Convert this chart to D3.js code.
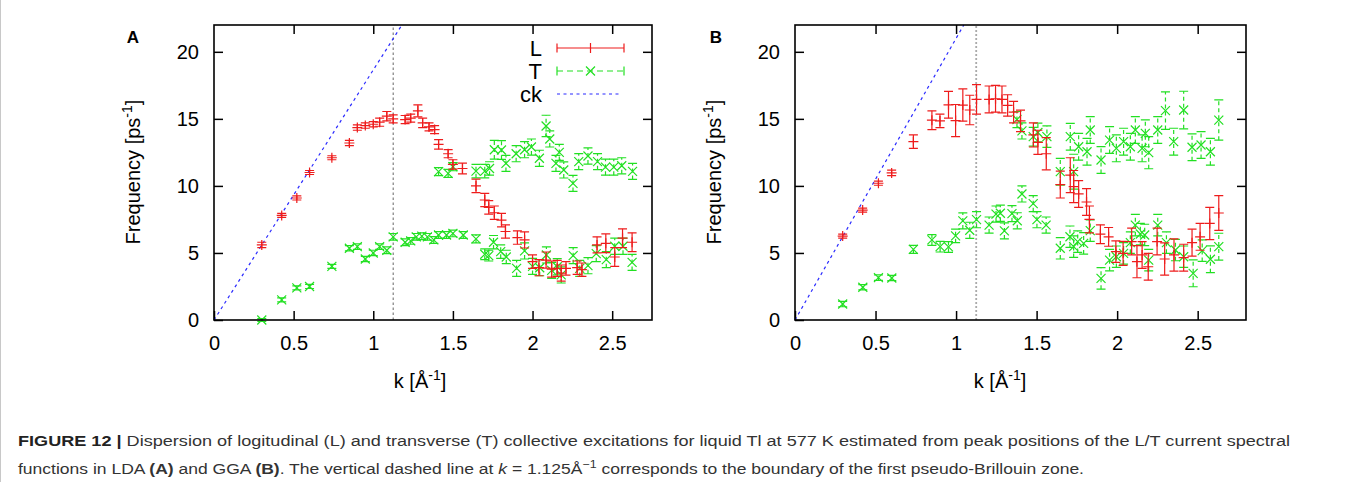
<!DOCTYPE html>
<html><head><meta charset="utf-8">
<script src="https://cdn.jsdelivr.net/npm/d3@7"></script>
<style>
body{margin:0;background:#fff;}
svg{display:block;}
text{font-family:"Liberation Sans",Arial,sans-serif;}
</style></head>
<body>
<svg id="chart" width="1347" height="482"></svg>
<script>
// ---------- DATA ----------
const xTicks = [0, 0.5, 1, 1.5, 2, 2.5];
const xTickLabels = ["0", "0.5", "1", "1.5", "2", "2.5"];
const yTicks = [0, 5, 10, 15, 20];
const yTickLabels = ["0", "5", "10", "15", "20"];
const legendLabels = ["L", "T", "ck"];
const kBoundary = 1.125;
const ckSlopeA = 18.65;
const ckSlopeB = 21.0;

// [k, frequency, error]
const A_L = [[0.30,5.6,0.2],[0.425,7.8,0.15],[0.52,9.1,0.15],[0.60,11.0,0.15],[0.74,12.1,0.15],[0.85,13.2,0.2],
 [0.90,14.35,0.2],[0.95,14.5,0.2],[1.00,14.6,0.2],[1.04,14.75,0.3],[1.085,15.2,0.35],[1.125,15.0,0.3],
 [1.20,14.95,0.3],[1.235,15.05,0.3],[1.28,15.6,0.45],[1.31,14.7,0.35],[1.35,14.4,0.3],[1.385,14.2,0.3],
 [1.41,13.1,0.35],[1.47,12.4,0.3],[1.50,11.6,0.35],[1.56,11.3,0.4],[1.645,10.0,0.5],[1.70,8.95,0.5],
 [1.725,8.4,0.5],[1.76,8.0,0.5],[1.805,7.45,0.5],[1.83,6.6,0.5],[1.905,6.15,0.5],[1.95,5.97,0.6],
 [2.0,4.35,0.5],[2.04,3.9,0.6],[2.085,4.47,0.6],[2.12,3.8,0.6],[2.155,3.85,0.6],[2.18,3.5,0.6],
 [2.21,3.85,0.5],[2.28,3.9,0.5],[2.31,3.75,0.5],[2.405,5.6,0.6],[2.46,5.72,0.7],[2.516,4.7,0.7],
 [2.565,6.1,0.7],[2.625,5.8,0.7]];
const A_T_low = [[0.30,0.0,0.1],[0.425,1.5,0.15],[0.52,2.4,0.15],[0.60,2.5,0.15],[0.74,4.0,0.15],[0.85,5.35,0.2],
 [0.90,5.47,0.2],[0.95,4.55,0.2],[1.00,5.0,0.2],[1.04,5.47,0.2],[1.085,5.2,0.25],[1.125,6.2,0.25],
 [1.20,5.8,0.25],[1.235,5.9,0.25],[1.27,6.2,0.25],[1.305,6.25,0.25],[1.34,6.2,0.25],[1.38,5.97,0.25],
 [1.41,6.34,0.25],[1.46,6.34,0.25],[1.50,6.46,0.25],[1.565,6.34,0.25],[1.645,6.05,0.3],[1.70,4.9,0.4],
 [1.725,4.8,0.4],[1.755,5.8,0.5],[1.80,5.1,0.5],[1.835,4.7,0.5],[1.90,3.85,0.6],[1.95,5.15,0.6],
 [2.0,4.0,0.6],[2.045,3.9,0.6],[2.087,4.85,0.6],[2.12,3.7,0.6],[2.155,3.97,0.6],[2.18,3.36,0.6],
 [2.255,4.8,0.6],[2.296,3.85,0.6],[2.348,4.05,0.6],[2.40,4.95,0.6],[2.463,4.5,0.6],[2.516,5.5,0.6],
 [2.568,5.5,0.6],[2.625,4.3,0.6]];
const A_T_high = [[1.41,11.06,0.3],[1.47,10.94,0.3],[1.50,11.43,0.3],[1.645,11.1,0.5],[1.70,11.1,0.5],
 [1.73,11.3,0.5],[1.76,12.7,0.7],[1.805,12.68,0.7],[1.833,11.68,0.6],[1.897,12.4,0.6],[1.95,12.7,0.6],
 [1.993,12.9,0.6],[2.043,12.06,0.6],[2.085,14.47,0.8],[2.108,13.5,0.6],[2.147,11.68,0.6],[2.168,12.5,0.6],
 [2.196,11.19,0.6],[2.254,10.19,0.6],[2.29,11.81,0.6],[2.348,12.23,0.6],[2.408,11.81,0.6],[2.458,11.4,0.6],
 [2.51,11.4,0.6],[2.56,11.5,0.6],[2.628,11.08,0.6]];

const B_L = [[0.296,6.26,0.15],[0.42,8.2,0.15],[0.518,10.2,0.15],[0.60,10.97,0.2],[0.735,13.3,0.5],[0.85,14.9,0.7],
 [0.90,14.85,0.5],[0.953,16.05,1.0],[0.997,14.87,1.2],[1.042,16.03,1.2],[1.085,15.66,1.1],[1.127,16.45,1.1],
 [1.205,16.45,1.0],[1.245,16.5,1.0],[1.285,16.45,1.0],[1.32,16.0,0.8],[1.357,15.5,0.8],[1.40,14.85,0.8],
 [1.48,13.8,0.9],[1.508,13.25,0.9],[1.56,12.4,1.2],[1.647,10.1,1.0],[1.709,10.8,1.3],[1.73,9.95,1.2],
 [1.761,9.4,1.0],[1.81,8.8,1.0],[1.828,7.5,1.0],[1.896,6.4,0.7],[1.947,6.2,0.7],[1.992,5.1,0.8],
 [2.037,4.97,0.9],[2.09,5.85,1.0],[2.123,4.35,1.2],[2.155,4.85,1.0],[2.193,3.97,1.0],[2.248,5.85,1.0],
 [2.295,4.55,1.2],[2.353,4.85,1.2],[2.413,4.65,1.0],[2.465,5.77,1.0],[2.515,6.2,1.0],[2.575,7.2,1.2],
 [2.631,7.98,1.3]];
const B_T_low = [[0.296,1.19,0.2],[0.421,2.44,0.2],[0.518,3.16,0.2],[0.601,3.13,0.2],[0.735,5.27,0.3],[0.85,5.97,0.4],
 [0.901,5.47,0.4],[0.953,5.45,0.4],[0.997,6.27,0.5],[1.042,7.39,0.6],[1.085,6.69,0.6],[1.127,7.48,0.6],
 [1.205,7.08,0.6],[1.248,7.9,0.6],[1.275,7.96,0.6],[1.30,6.65,0.6],[1.347,7.93,0.6],[1.38,7.4,0.6],
 [1.409,9.4,0.6],[1.479,8.68,0.6],[1.502,7.48,0.6],[1.559,7.08,0.6],[1.647,5.35,0.8],[1.707,6.21,0.8],
 [1.73,5.47,0.8],[1.755,5.84,0.8],[1.792,5.72,0.8],[1.833,6.66,0.8],[1.90,3.1,0.8],[1.953,4.47,0.8],
 [1.995,4.72,0.8],[2.04,4.97,0.8],[2.082,5.77,0.8],[2.113,7.08,0.8],[2.144,6.41,0.8],[2.171,6.34,0.8],
 [2.196,4.47,0.8],[2.252,7.08,0.8],[2.306,5.77,0.8],[2.362,5.22,0.8],[2.413,4.72,0.8],[2.472,3.48,1.0],
 [2.528,5.17,0.8],[2.579,4.53,1.0],[2.631,5.47,1.0]];
const B_T_high = [[1.378,14.95,0.6],[1.409,14.1,0.6],[1.479,13.67,0.7],[1.508,13.98,0.7],[1.564,13.67,0.8],
 [1.647,11.06,1.0],[1.709,13.67,1.0],[1.73,11.06,1.3],[1.761,12.92,1.0],[1.813,12.55,1.0],[1.833,14.17,1.0],
 [1.90,11.93,1.0],[1.953,13.42,1.0],[1.995,12.8,1.0],[2.04,13.3,1.0],[2.082,12.92,1.0],[2.113,14.17,1.0],
 [2.155,12.8,1.0],[2.175,13.92,1.0],[2.196,12.48,1.2],[2.252,14.17,1.0],[2.30,15.61,1.4],[2.351,13.3,1.0],
 [2.413,15.66,1.4],[2.465,12.88,1.0],[2.521,13.05,1.0],[2.579,12.55,1.0],[2.631,14.91,1.5]];

// ---------- STYLE ----------
const RED = "#ee1c1c", GREEN = "#22e022", BLUE = "#2a2aff";
const svg = d3.select("#chart");

// light frame at the left edge
svg.append("line").attr("x1",0.5).attr("x2",0.5).attr("y1",0).attr("y2",482).attr("stroke","#c8c8c8");

function drawPanel(opt){
  const x = d3.scaleLinear().domain([0, opt.xmax]).range([opt.left, opt.right]);
  const y = d3.scaleLinear().domain([0, 22]).range([320, 25]);
  const g = svg.append("g");
  const fmtX = d => xTickLabels[xTicks.indexOf(d)];
  const fmtY = d => yTickLabels[yTicks.indexOf(d)];

  const ax = (axis, tr, labels) => {
    const a = g.append("g").attr("transform", tr).call(axis);
    a.select(".domain").remove();
    a.selectAll(".tick line").attr("stroke","#000").attr("stroke-width",1.5);
    a.selectAll("text").attr("font-size","20px").attr("fill","#000").attr("font-family",'"Liberation Sans",Arial,sans-serif');
    if(!labels) a.selectAll("text").remove();
    return a;
  };
  ax(d3.axisBottom(x).tickValues(xTicks).tickFormat(fmtX).tickSize(-9).tickPadding(16), "translate(0,320)", true);
  ax(d3.axisTop(x).tickValues(xTicks.filter(d=>d>0)).tickSize(-9), "translate(0,25)", false);
  ax(d3.axisLeft(y).tickValues(yTicks).tickFormat(fmtY).tickSize(-9).tickPadding(15), `translate(${opt.left},0)`, true);
  ax(d3.axisRight(y).tickValues(yTicks.filter(d=>d>0)).tickSize(-9), `translate(${opt.right},0)`, false);

  // boundary line
  g.append("line").attr("x1",x(kBoundary)).attr("x2",x(kBoundary)).attr("y1",y(0)).attr("y2",y(22))
    .attr("stroke",opt.vColor).attr("stroke-width",opt.vWidth).attr("stroke-dasharray",opt.vDash);
  // ck line
  g.append("line").attr("x1",x(0)).attr("y1",y(0)).attr("x2",x(22/opt.c)).attr("y2",y(22))
    .attr("stroke",BLUE).attr("stroke-width",1.2).attr("stroke-dasharray","3,3.5");

  function errBars(data, color, dash, marker){
    const gg = g.append("g").attr("stroke",color).attr("stroke-width",1.2).attr("fill","none");
    data.forEach(([k,f,e])=>{
      const px = x(k), y0 = y(f-e), y1 = y(f+e), py = y(f);
      const p = d3.path();
      p.moveTo(px,y0); p.lineTo(px,y1);
      gg.append("path").attr("d",p.toString()).attr("stroke-dasharray",dash);
      const c = d3.path();
      c.moveTo(px-4.5,y0); c.lineTo(px+4.5,y0);
      c.moveTo(px-4.5,y1); c.lineTo(px+4.5,y1);
      gg.append("path").attr("d",c.toString());
      const m = d3.path();
      if(marker==="+"){ m.moveTo(px-5,py); m.lineTo(px+5,py); m.moveTo(px,py-5); m.lineTo(px,py+5); }
      else { m.moveTo(px-4.5,py-4.5); m.lineTo(px+4.5,py+4.5); m.moveTo(px-4.5,py+4.5); m.lineTo(px+4.5,py-4.5); }
      gg.append("path").attr("d",m.toString());
    });
  }
  opt.Tseries.forEach(s=>errBars(s, GREEN, "4,3", "x"));
  errBars(opt.L, RED, null, "+");

  // frame
  g.append("rect").attr("x",opt.left).attr("y",25).attr("width",opt.right-opt.left).attr("height",295)
    .attr("fill","none").attr("stroke","#000").attr("stroke-width",1.6);

  // panel letter
  g.append("text").attr("x",opt.letterX).attr("y",43).attr("font-size","17px").attr("font-weight","bold")
    .attr("text-anchor","middle").text(opt.letter);

  // y label
  const yl = g.append("text").attr("transform",`translate(${opt.left-74},172) rotate(-90)`)
    .attr("text-anchor","middle").attr("font-size","20px");
  yl.append("tspan").text("Frequency [ps");
  yl.append("tspan").attr("font-size","14px").attr("dy","-8").text("-1");
  yl.append("tspan").attr("dy","8").text("]");
  // x label
  const xl = g.append("text").attr("x",opt.xLabelX).attr("y",388).attr("text-anchor","middle").attr("font-size","20px");
  xl.append("tspan").text("k [Å");
  xl.append("tspan").attr("font-size","14px").attr("dy","-8").text("-1");
  xl.append("tspan").attr("dy","8").text("]");

  if(opt.legend){
    const lx = 542, sx0 = 557, sx1 = 624, rows = [48, 71, 94];
    legendLabels.forEach((t,i)=>{
      g.append("text").attr("x",lx).attr("y",rows[i]+8).attr("text-anchor","end").attr("font-size","22px").text(t);
    });
    const lg = g.append("g").attr("fill","none").attr("stroke-width",1.2);
    const mid = (sx0+sx1)/2;
    // L sample
    const pL = d3.path(); pL.moveTo(sx0,rows[0]); pL.lineTo(sx1,rows[0]);
    pL.moveTo(sx0,rows[0]-4.5); pL.lineTo(sx0,rows[0]+4.5); pL.moveTo(sx1,rows[0]-4.5); pL.lineTo(sx1,rows[0]+4.5);
    pL.moveTo(mid,rows[0]-5); pL.lineTo(mid,rows[0]+5);
    lg.append("path").attr("d",pL.toString()).attr("stroke",RED);
    // T sample
    const pT = d3.path(); pT.moveTo(sx0,rows[1]); pT.lineTo(sx1,rows[1]);
    lg.append("path").attr("d",pT.toString()).attr("stroke",GREEN).attr("stroke-dasharray","6,4");
    const pT2 = d3.path();
    pT2.moveTo(sx0,rows[1]-4.5); pT2.lineTo(sx0,rows[1]+4.5); pT2.moveTo(sx1,rows[1]-4.5); pT2.lineTo(sx1,rows[1]+4.5);
    pT2.moveTo(mid-4.5,rows[1]-4.5); pT2.lineTo(mid+4.5,rows[1]+4.5); pT2.moveTo(mid-4.5,rows[1]+4.5); pT2.lineTo(mid+4.5,rows[1]-4.5);
    lg.append("path").attr("d",pT2.toString()).attr("stroke",GREEN);
    // ck sample
    const pC = d3.path(); pC.moveTo(sx0,rows[2]); pC.lineTo(sx1-4,rows[2]);
    lg.append("path").attr("d",pC.toString()).attr("stroke",BLUE).attr("stroke-dasharray","3,3.5");
  }
}

drawPanel({left:214, right:652, xmax:2.75, c:ckSlopeA, L:A_L, Tseries:[A_T_low, A_T_high],
  vColor:"#666", vWidth:1, vDash:"2.5,2.5", letter:"A", letterX:133, xLabelX:420, legend:true});
drawPanel({left:795, right:1246, xmax:2.8, c:ckSlopeB, L:B_L, Tseries:[B_T_low, B_T_high],
  vColor:"#aaa", vWidth:1.8, vDash:"2,2", letter:"B", letterX:716, xLabelX:1000, legend:false});

// ---------- CAPTION ----------
const capFont = '"Liberation Sans Narrow","Arial Narrow","Liberation Sans",Arial,sans-serif';
const c1 = svg.append("text").attr("x",18).attr("y",446).attr("font-size","15.5px").attr("fill","#333")
  .attr("font-family",capFont).attr("textLength",1272).attr("lengthAdjust","spacingAndGlyphs");
c1.append("tspan").attr("font-weight","bold").attr("fill","#222").text("FIGURE 12 | ");
c1.append("tspan").text("Dispersion of logitudinal (L) and transverse (T) collective excitations for liquid Tl at 577 K estimated from peak positions of the L/T current spectral");
const c2 = svg.append("text").attr("x",18).attr("y",474).attr("font-size","15.5px").attr("fill","#333")
  .attr("font-family",capFont).attr("textLength",1066).attr("lengthAdjust","spacingAndGlyphs");
c2.append("tspan").text("functions in LDA ");
c2.append("tspan").attr("font-weight","bold").text("(A)");
c2.append("tspan").text(" and GGA ");
c2.append("tspan").attr("font-weight","bold").text("(B)");
c2.append("tspan").text(". The vertical dashed line at ");
c2.append("tspan").attr("font-style","italic").text("k");
c2.append("tspan").text(" = 1.125Å");
c2.append("tspan").attr("font-size","11px").attr("dy","-6").text("−1");
c2.append("tspan").attr("dy","6").text(" corresponds to the boundary of the first pseudo-Brillouin zone.");
</script>
</body></html>
